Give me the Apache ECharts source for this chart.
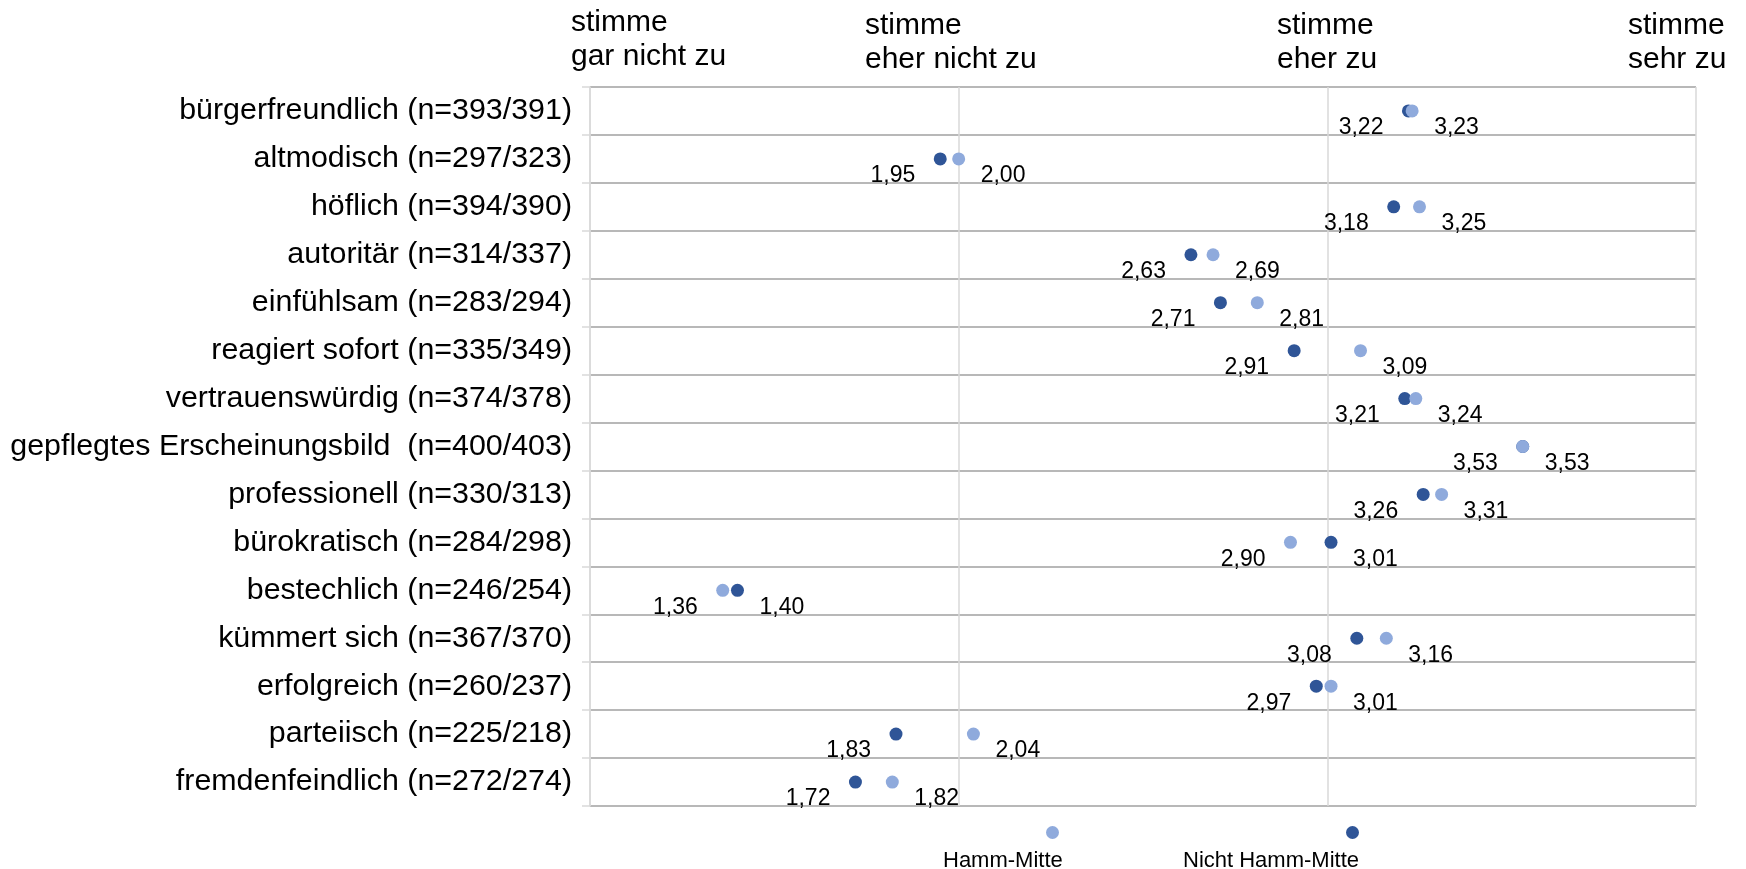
<!DOCTYPE html>
<html>
<head>
<meta charset="utf-8">
<script src="https://cdn.jsdelivr.net/npm/echarts@6/dist/echarts.min.js"></script>
<style>
    html, body { margin: 0; padding: 0; background: #fff; }
    #chart-div { width: 1746px; height: 869px; }
</style>
</head>
<body>
<div id="chart-div"></div>
<script>
// Kategorien (von oben nach unten)
const kategorien = [
    'bürgerfreundlich (n=393/391)',
    'altmodisch (n=297/323)',
    'höflich (n=394/390)',
    'autoritär (n=314/337)',
    'einfühlsam (n=283/294)',
    'reagiert sofort (n=335/349)',
    'vertrauenswürdig (n=374/378)',
    'gepflegtes Erscheinungsbild  (n=400/403)',
    'professionell (n=330/313)',
    'bürokratisch (n=284/298)',
    'bestechlich (n=246/254)',
    'kümmert sich (n=367/370)',
    'erfolgreich (n=260/237)',
    'parteiisch (n=225/218)',
    'fremdenfeindlich (n=272/274)'
]

// Mittelwerte
const hammMitte = [3.23, 2.00, 3.25, 2.69, 2.81, 3.09, 3.24, 3.53, 3.31, 2.90, 1.36, 3.16, 3.01, 2.04, 1.82]
const nichtHammMitte = [3.22, 1.95, 3.18, 2.63, 2.71, 2.91, 3.21, 3.53, 3.26, 3.01, 1.40, 3.08, 2.97, 1.83, 1.72]

// Skalenbeschriftung oben (1 bis 4)
const skalaTexte = ['stimme\ngar nicht zu', 'stimme\neher nicht zu', 'stimme\neher zu', 'stimme\nsehr zu']

const schrift = '"Liberation Sans", Arial, sans-serif'
const dunkel = '#2f5597'
const hell = '#8faadc'

function komma(v) {
    return v.toFixed(2).replace('.', ',')
}

// der kleinere Wert bekommt das Label links unten, der größere rechts unten
function punkte(werte, andere, linksBeiGleich) {
    return werte.map((v, i) => {
        const links = linksBeiGleich ? v <= andere[i] : v < andere[i]
        return {
            value: [v, kategorien[i]],
            label: links
                ? { align: 'right', offset: [-25, 17] }
                : { align: 'left', offset: [22, 17] }
        }
    })
}

const labelStil = {
    show: true,
    position: 'inside',
    verticalAlign: 'middle',
    color: '#000',
    fontSize: 23,
    fontFamily: schrift,
    formatter: p => komma(p.value[0])
}

const kopfX = [571, 865, 1277, 1628]
const kopfY = [6, 9, 9, 9]

let myChart = echarts.init(document.getElementById('chart-div'))

const option = {
    animation: false,
    backgroundColor: '#fff',
    grid: { left: 590, right: 50, top: 87, bottom: 63 },
    xAxis: {
        type: 'value',
        min: 1,
        max: 4,
        interval: 1,
        axisLabel: { show: false },
        axisLine: { show: false },
        axisTick: { show: false },
        splitLine: { show: true, lineStyle: { color: '#d9d9d9', width: 1.5 } }
    },
    yAxis: {
        type: 'category',
        inverse: true,
        data: kategorien,
        axisLine: { show: true, lineStyle: { color: '#d9d9d9', width: 1.5 } },
        axisTick: { show: true, length: 8, lineStyle: { color: '#d9d9d9', width: 1.5 } },
        splitLine: { show: true, lineStyle: { color: '#a0a0a0', width: 1.5 } },
        axisLabel: { color: '#000', fontSize: 30.4, fontFamily: schrift, margin: 18 }
    },
    legend: [
        {
            data: ['Hamm-Mitte'], left: 1046, top: 826, padding: 0,
            icon: 'circle', itemWidth: 13, itemHeight: 13,
            formatter: () => '', selectedMode: false
        },
        {
            data: ['Nicht Hamm-Mitte'], left: 1346, top: 826, padding: 0,
            icon: 'circle', itemWidth: 13, itemHeight: 13,
            formatter: () => '', selectedMode: false
        }
    ],
    graphic: skalaTexte.map((t, i) => ({
        type: 'text',
        x: kopfX[i],
        y: kopfY[i],
        style: { text: t, font: '30px ' + schrift, lineHeight: 34, fill: '#000' }
    })).concat([
        { type: 'text', x: 943, y: 850, style: { text: 'Hamm-Mitte', font: '22px ' + schrift, fill: '#000' } },
        { type: 'text', x: 1183, y: 850, style: { text: 'Nicht Hamm-Mitte', font: '22px ' + schrift, fill: '#000' } }
    ]),
    series: [
        {
            name: 'Nicht Hamm-Mitte',
            type: 'scatter',
            symbolSize: 13,
            itemStyle: { color: dunkel, opacity: 1 },
            label: labelStil,
            data: punkte(nichtHammMitte, hammMitte, true)
        },
        {
            name: 'Hamm-Mitte',
            type: 'scatter',
            symbolSize: 13,
            itemStyle: { color: hell, opacity: 1 },
            label: labelStil,
            data: punkte(hammMitte, nichtHammMitte, false)
        }
    ]
}

myChart.setOption(option)
</script>
</body>
</html>
